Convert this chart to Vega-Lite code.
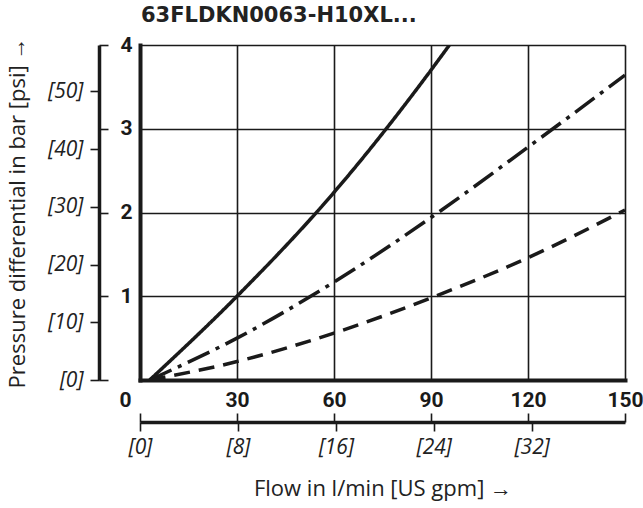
{
  "$schema": "https://vega.github.io/schema/vega-lite/v6.json",
  "width": 485,
  "height": 335,
  "autosize": {"type": "none"},
  "padding": {"left": 140, "top": 45, "right": 18, "bottom": 128},
  "background": "white",
  "title": {
    "text": "63FLDKN0063-H10XL...",
    "anchor": "start",
    "frame": "group",
    "font": "DejaVu Sans",
    "fontSize": 21,
    "fontWeight": "bold",
    "color": "#222222",
    "offset": 8,
    "dx": 1
  },
  "config": {
    "view": {"stroke": null},
    "axis": {"labelOverlap": false, "labelBound": false, "labelFlush": false}
  },
  "data": {
    "values": [
      {"curve": "A", "flow": 3, "dp": 0},
      {"curve": "A", "flow": 30, "dp": 1},
      {"curve": "A", "flow": 60, "dp": 2.24},
      {"curve": "A", "flow": 90, "dp": 3.7},
      {"curve": "A", "flow": 95.7, "dp": 4},
      {"curve": "B", "flow": 3, "dp": 0},
      {"curve": "B", "flow": 30, "dp": 0.5},
      {"curve": "B", "flow": 60, "dp": 1.17},
      {"curve": "B", "flow": 90, "dp": 1.94},
      {"curve": "B", "flow": 120, "dp": 2.78},
      {"curve": "B", "flow": 150, "dp": 3.64},
      {"curve": "C", "flow": 3, "dp": 0},
      {"curve": "C", "flow": 30, "dp": 0.22},
      {"curve": "C", "flow": 60, "dp": 0.56},
      {"curve": "C", "flow": 90, "dp": 0.98},
      {"curve": "C", "flow": 120, "dp": 1.46},
      {"curve": "C", "flow": 150, "dp": 2.03}
    ]
  },
  "resolve": {"axis": {"x": "independent", "y": "independent"}},
  "layer": [
    {
      "mark": {"type": "line", "strokeWidth": 3.5, "color": "#1a1a1a", "interpolate": "monotone", "clip": true},
      "encoding": {
        "x": {
          "field": "flow", "type": "quantitative",
          "scale": {"domain": [0, 150], "nice": false, "zero": false},
          "axis": {
            "orient": "bottom", "offset": 0,
            "values": [0, 30, 60, 90, 120, 150],
            "grid": true, "gridColor": "#1a1a1a", "gridWidth": 1.6,
            "domain": true, "domainColor": "#1a1a1a", "domainWidth": 4, "domainCap": "square",
            "ticks": false,
            "labelFont": "Roboto",
            "labelFontSize": 21, "labelFontWeight": "bold", "labelColor": "#1a1a1a",
            "labelPadding": 9,
            "labelAlign": {"condition": {"test": "datum.value == 0", "value": "right"}, "value": "center"},
            "labelOffset": {"condition": {"test": "datum.value == 0", "value": -9}, "value": 0},
            "title": null
          }
        },
        "y": {
          "field": "dp", "type": "quantitative",
          "scale": {"domain": [0, 4], "nice": false, "zero": false},
          "axis": {
            "orient": "left", "offset": 0,
            "values": [1, 2, 3, 4],
            "grid": true, "gridColor": "#1a1a1a", "gridWidth": 1.6,
            "domain": true, "domainColor": "#1a1a1a", "domainWidth": 4, "domainCap": "square",
            "ticks": false,
            "labelFont": "Roboto",
            "labelFontSize": 21, "labelFontWeight": "bold", "labelColor": "#1a1a1a",
            "labelPadding": 8,
            "title": null
          }
        },
        "strokeDash": {
          "field": "curve", "type": "nominal",
          "scale": {"domain": ["A", "B", "C"], "range": [[1, 0], [24, 7, 4, 7], [16, 9]]},
          "legend": null
        }
      }
    },
    {
      "mark": {"type": "point", "opacity": 0},
      "encoding": {
        "x": {
          "field": "flow", "type": "quantitative",
          "axis": {
            "orient": "bottom", "offset": 42,
            "values": [0, 30.2833, 60.5666, 90.8498, 121.1331],
            "grid": false,
            "domain": true, "domainColor": "#1a1a1a", "domainWidth": 3.5,
            "ticks": true, "tickSize": 9, "tickWidth": 1.6, "tickColor": "#1a1a1a",
            "labelExpr": "'[' + round(datum.value / 3.785411784) + ']'",
            "labelFont": "Open Sans", "labelFontStyle": "italic", "labelFontSize": 21,
            "labelColor": "#222222", "labelPadding": 5,
            "title": "Flow in l/min [US gpm] →",
            "titleFont": "Open Sans", "titleFontSize": 22, "titleFontWeight": "normal",
            "titleColor": "#222222", "titlePadding": 21
          }
        },
        "y": {
          "field": "dp", "type": "quantitative",
          "axis": {
            "orient": "left", "offset": 41,
            "values": [0, 0.689476, 1.378951, 2.068427, 2.757903, 3.447379],
            "grid": false,
            "domain": true, "domainColor": "#1a1a1a", "domainWidth": 3.5,
            "ticks": true, "tickSize": 9, "tickWidth": 1.6, "tickColor": "#1a1a1a",
            "labelExpr": "'[' + round(datum.value * 14.5037738) + ']'",
            "labelFont": "Open Sans", "labelFontStyle": "italic", "labelFontSize": 21,
            "labelColor": "#222222", "labelPadding": 7,
            "title": "Pressure differential in bar [psi] →",
            "titleFont": "Open Sans", "titleFontSize": 22, "titleFontWeight": "normal",
            "titleColor": "#222222", "titlePadding": 18
          }
        }
      }
    },
    {
      "mark": {"type": "point", "opacity": 0},
      "encoding": {
        "x": {
          "field": "flow", "type": "quantitative",
          "axis": {
            "orient": "bottom", "offset": 42,
            "values": [0, 30, 60, 90, 120, 150],
            "grid": false, "domain": false, "labels": false,
            "ticks": true, "tickSize": -9, "tickWidth": 1.6, "tickColor": "#1a1a1a",
            "title": null
          }
        },
        "y": {
          "field": "dp", "type": "quantitative",
          "axis": {
            "orient": "left", "offset": 41,
            "values": [0, 1, 2, 3, 4],
            "grid": false, "domain": false, "labels": false,
            "ticks": true, "tickSize": -9, "tickWidth": 1.6, "tickColor": "#1a1a1a",
            "title": null
          }
        }
      }
    }
  ]
}
